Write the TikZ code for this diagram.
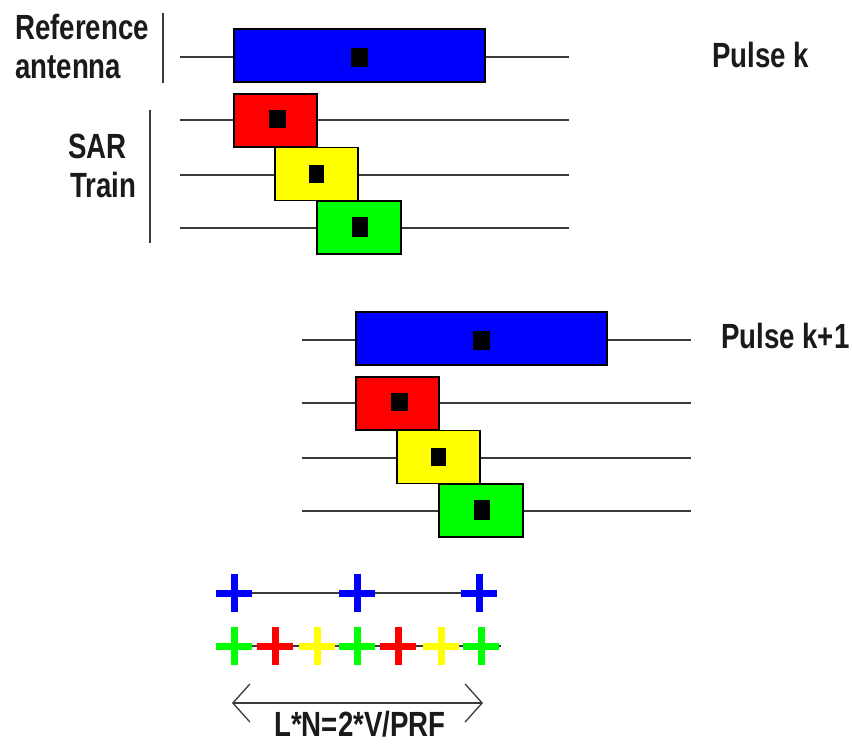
\documentclass[tikz,border=0pt]{standalone}
\usepackage{fontspec}
\setmainfont{Liberation Sans}
\usetikzlibrary{arrows.meta}

\definecolor{wire}{HTML}{3A3A3A}
\definecolor{ink}{HTML}{1A1A1A}
\definecolor{pblue}{HTML}{0000FF}
\definecolor{pred}{HTML}{FF0000}
\definecolor{pyellow}{HTML}{FFFF00}
\definecolor{pgreen}{HTML}{00FF00}

% One pulse: reference antenna row plus the three SAR-train rows.
% #1 name prefix, #2/#3 shift of the whole group
\newcommand\pulsegroup[3]{%
  \begin{scope}[shift={(#2,#3)}]
    \coordinate (#1L0) at (180,57);  \coordinate (#1R0) at (569,57);
    \coordinate (#1L1) at (180,120); \coordinate (#1R1) at (569,120);
    \coordinate (#1L2) at (180,175); \coordinate (#1R2) at (569,175);
    \coordinate (#1L3) at (180,228); \coordinate (#1R3) at (569,228);
    \draw[wireline] (#1L0) -- (#1R0);
    \draw[wireline] (#1L1) -- (#1R1);
    \draw[wireline] (#1L2) -- (#1R2);
    \draw[wireline] (#1L3) -- (#1R3);
    \node[band, fill=pblue, minimum width=251pt] (#1ref) at (359.5,55.5) {};
    \node[dot, minimum width=17pt, minimum height=19pt] (#1refc) at (359,57) {};
    \node[band, fill=pred, minimum width=83pt] (#1red) at (275.5,120.5) {};
    \node[dot, minimum width=17pt, minimum height=18pt] (#1redc) at (277,119) {};
    \node[band, fill=pyellow, minimum width=83pt] (#1yel) at (316.5,174) {};
    \node[dot, minimum width=15pt, minimum height=18pt] (#1yelc) at (316,174) {};
    \node[band, fill=pgreen, minimum width=84pt] (#1grn) at (359,227.5) {};
    \node[dot, minimum width=16pt, minimum height=20pt] (#1grnc) at (360,227) {};
  \end{scope}}

\begin{document}
\begin{tikzpicture}[x=1pt,y=-1pt,
  lbl/.style={font=\bfseries\fontsize{35}{40}\selectfont, text=ink, inner sep=0pt, xscale=0.79},
  wireline/.style={draw=wire, line width=2.6pt},
  band/.style={draw=black, line width=1.6pt, inner sep=0pt, minimum height=53pt},
  dot/.style={fill=black, draw=none, inner sep=0pt},
  bar/.style={draw=wire, line width=2pt},
  crossmark/.pic={\draw[line width=7pt] (-18,0) -- (18,0) (0,-19) -- (0,19);}
]
\useasboundingbox[fill=white] (0,0) rectangle (852,744);

% pulse k and pulse k+1
\pulsegroup{a}{0}{0}
\pulsegroup{b}{122}{283}

% brackets beside the row labels
\coordinate (barA1) at (163,13);  \coordinate (barA2) at (163,83);
\coordinate (barB1) at (150,110); \coordinate (barB2) at (150,243);
\draw[bar] (barA1) -- (barA2);
\draw[bar] (barB1) -- (barB2);

% labels
\node[lbl, anchor=base west] (tref) at (15,39) {Reference};
\node[lbl, anchor=base west] (tant) at (15,78) {antenna};
\node[lbl, anchor=base west] (tsar) at (68,158) {SAR};
\node[lbl, anchor=base west] (ttrain) at (70,197) {Train};
\node[lbl, anchor=base west] (tpk) at (712,67) {Pulse k};
\node[lbl, anchor=base west] (tpk1) at (721,348) {Pulse k+1};

% phase centres of the reference antenna
\coordinate (b1) at (234,593);
\coordinate (b2) at (357,593);
\coordinate (b3) at (479,593);
\draw[draw=wire, line width=2pt] (b1) -- (b3);
\pic[pblue] at (b1) {crossmark};
\pic[pblue] at (b2) {crossmark};
\pic[pblue] at (b3) {crossmark};

% phase centres of the SAR train
\coordinate (g1) at (234,646);
\coordinate (g2) at (275,646);
\coordinate (g3) at (317,646);
\coordinate (g4) at (357,646);
\coordinate (g5) at (398,646);
\coordinate (g6) at (441,646);
\coordinate (g7) at (481,646);
\coordinate (gE) at (501,646);
\draw[draw=wire, line width=2pt] (g1) -- (gE);
\pic[pgreen] at (g1) {crossmark};
\pic[pred] at (g2) {crossmark};
\pic[pyellow] at (g3) {crossmark};
\pic[pgreen] at (g4) {crossmark};
\pic[pred] at (g5) {crossmark};
\pic[pyellow] at (g6) {crossmark};
\pic[pgreen] at (g7) {crossmark};

% span of the train
\coordinate (aL) at (232,703);
\coordinate (aR) at (483,703);
\draw[draw=wire, line width=1.3pt,
  {Straight Barb[length=17pt,width=38pt]}-{Straight Barb[length=17pt,width=38pt]}] (aL) -- (aR);
\node[lbl, anchor=base] (tform) at (360,736) {L*N=2*V/PRF};
\end{tikzpicture}
\end{document}
